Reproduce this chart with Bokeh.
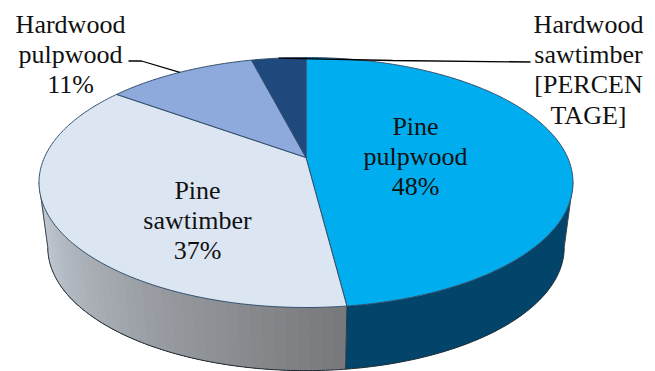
import numpy as np
from bokeh.core.properties import value
from bokeh.embed import file_html
from bokeh.models import Range1d
from bokeh.plotting import figure
from bokeh.resources import INLINE

# Shares of the pie, clockwise from twelve o'clock
categories = ["Pine pulpwood", "Pine sawtimber", "Hardwood pulpwood", "Hardwood sawtimber"]
shares = [48, 37, 11, 4]
top_colors = ["#00aeef", "#dce6f2", "#8ea9db", "#1f497d"]

# Label lines and where each block of text is centred
label_lines = [
    ["Pine", "pulpwood", "48%"],
    ["Pine", "sawtimber", "37%"],
    ["Hardwood", "pulpwood", "11%"],
    ["Hardwood", "sawtimber", "[PERCEN", "TAGE]"],
]
label_x = [415, 197, 70, 588]
label_first_y = [126, 190, 24, 24]
line_step = 30.2

# Perspective of the disc: apex position, radii and tilt
APEX_X, APEX_Y = 305.5, 157.0
RX, RY, TILT = 261.6, 120.0, 0.2
RIM_CENTER_Y = 182.0
BASE_SCALE_X, BASE_SCALE_Y, BASE_DROP = 0.967, 0.985, 65.0


def rim(theta, radius=1.0):
    """Project a clockwise-from-top angle on the disc to page coordinates."""
    u = radius * np.sin(theta)
    v = radius * np.cos(theta)
    w = 1 + TILT * v
    return APEX_X + RX * u / w, APEX_Y - RY * v / w


def base(theta):
    """Lower rim: the upper rim scaled slightly and moved down."""
    x, y = rim(theta)
    return APEX_X + (x - APEX_X) * BASE_SCALE_X, RIM_CENTER_Y + BASE_DROP + (y - RIM_CENTER_Y) * BASE_SCALE_Y


def wall(t0, t1):
    t = np.linspace(t0, t1, max(int(abs(t1 - t0) * 60), 2))
    xt, yt = rim(t)
    xb, yb = base(t[::-1])
    return np.concatenate([xt, xb]), np.concatenate([yt, yb])


fractions = np.cumsum([0] + shares) / sum(shares)
angles = fractions * 2 * np.pi

p = figure(width=655, height=371, output_backend="svg", toolbar_location=None,
           x_range=Range1d(0, 655), y_range=Range1d(371, 0), min_border=0,
           outline_line_color=None, background_fill_color="white", border_fill_color="white")
p.axis.visible = False
p.grid.visible = False

# Visible wall runs between the two silhouette angles of the projected disc
right_edge = np.arccos(-TILT)
left_edge = 2 * np.pi - right_edge
t_split = angles[1]

# Grey wall under the second slice, painted from the dark end outwards;
# each lighter strip lies on top of the darker one before it, so no seams show
steps = 40
edges = np.linspace(t_split, left_edge, steps + 1)
dark = np.array([0x78, 0x79, 0x7c])
light = np.array([0xc8, 0xd0, 0xda])
for i in range(steps):
    mix = i / (steps - 1)
    r, g, b = (dark + (light - dark) * mix).astype(int)
    color = f"#{r:02x}{g:02x}{b:02x}"
    x, y = wall(edges[i], left_edge)
    p.patch(x, y, fill_color=color, line_color=None)

# Dark blue wall under the first slice
x, y = wall(right_edge, t_split)
p.patch(x, y, fill_color="#02446a", line_color=None)

# Outline of the lower rim and the wall's vertical edges
t = np.linspace(right_edge, left_edge, 200)
bx, by = base(t)
p.line(bx, by, line_color="#1f2a33", line_width=1)
for a in (right_edge, left_edge):
    xt, yt = rim(a)
    xb, yb = base(a)
    p.line([xt, xb], [yt, yb], line_color="#3a4650", line_width=1)
xt, yt = rim(t_split)
xb, yb = base(t_split)
p.line([xt, xb], [yt, yb], line_color="#2b3a44", line_width=1)

# Top face slices
for a0, a1, color in zip(angles[:-1], angles[1:], top_colors):
    t = np.linspace(a0, a1, max(int((a1 - a0) * 80), 8))
    xr, yr = rim(t)
    p.patch(np.concatenate([[APEX_X], xr]), np.concatenate([[APEX_Y], yr]),
            fill_color=color, line_color="#33506e", line_width=1, line_join="round")

# Leader lines start on the rim at each small slice's middle
mid_pulp = (angles[2] + angles[3]) / 2
x0, y0 = rim(mid_pulp)
p.line([x0, 141, 128], [y0, 60.5, 60.5], line_color="black", line_width=1.3)
mid_saw = (angles[3] + angles[4]) / 2
x0, y0 = rim(mid_saw)
p.line([x0, 392, 530], [y0, 60, 61.5], line_color="black", line_width=1.3)

# Slice labels
for lines, lx, ly in zip(label_lines, label_x, label_first_y):
    ys = [ly + i * line_step for i in range(len(lines))]
    p.text([lx] * len(lines), ys, text=lines, text_align="center", text_baseline="middle",
           text_font=value("Liberation Serif"), text_font_size="26px", text_color="#111111")

open("out.html", "w").write(file_html(p, INLINE))
